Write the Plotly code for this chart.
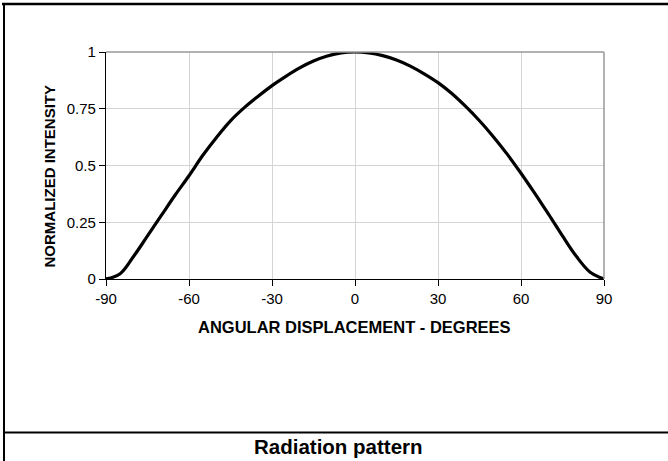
import plotly.graph_objects as go

angles = [-90, -85, -80, -75, -70, -65, -60, -55, -50, -45, -40, -35, -30, -25, -20, -15, -10, -5,
          0, 5, 10, 15, 20, 25, 30, 35, 40, 45, 50, 55, 60, 65, 70, 75, 80, 85, 90]
intensity = [0.0, 0.022, 0.10, 0.19, 0.28, 0.37, 0.455, 0.545, 0.625, 0.697, 0.755, 0.805, 0.852, 0.893, 0.93, 0.96, 0.982, 0.996,
             1.0, 0.996, 0.984, 0.965, 0.938, 0.904, 0.865, 0.817, 0.76, 0.697, 0.627, 0.55, 0.466, 0.377, 0.285, 0.19, 0.10, 0.03, 0.0]
x_ticks = [-90, -60, -30, 0, 30, 60, 90]
y_ticks = [0, 0.25, 0.5, 0.75, 1]
y_labels = ["0", "0.25", "0.5", "0.75", "1"]

W, H = 668, 461
L, R, T, B = 106, 64, 52, 182
pw, ph = W - L - R, H - T - B

def px(x):
    return (x - L) / pw

def py(y):
    return (H - B - y) / ph

fig = go.Figure()
fig.add_trace(go.Scatter(x=angles, y=intensity, mode="lines",
                         line=dict(color="black", width=3.2, shape="spline", smoothing=1.0),
                         hoverinfo="skip", showlegend=False))

sans = "Liberation Sans, Arial"
narrow = "Liberation Sans Narrow, Arial Narrow, Liberation Sans, Arial"
fig.update_layout(
    width=W, height=H,
    margin=dict(l=L, r=R, t=T, b=B),
    paper_bgcolor="white", plot_bgcolor="white",
    font=dict(family=sans, color="black", size=15),
    xaxis=dict(range=[-90, 90], tickvals=x_ticks, ticktext=[str(v) for v in x_ticks],
               showgrid=True, gridcolor="#d4d4d4", gridwidth=1,
               showline=True, linecolor="black", linewidth=1.3,
               ticks="outside", ticklen=6, tickcolor="black", tickwidth=1,
               zeroline=False, tickfont=dict(size=15, family=sans)),
    yaxis=dict(range=[0, 1], tickvals=y_ticks, ticktext=y_labels,
               showgrid=True, gridcolor="#d4d4d4", gridwidth=1,
               showline=True, linecolor="black", linewidth=1.3,
               ticks="outside", ticklen=6, tickcolor="black", tickwidth=1,
               zeroline=False, tickfont=dict(size=15, family=sans)),
    shapes=[
        dict(type="line", xref="paper", yref="paper", x0=0, x1=1, y0=1, y1=1,
             line=dict(color="#999999", width=1.5)),
        dict(type="line", xref="paper", yref="paper", x0=1, x1=1, y0=0, y1=1,
             line=dict(color="#999999", width=1.5)),
        dict(type="line", xref="paper", yref="paper", x0=px(2), x1=px(W + 2), y0=py(4), y1=py(4),
             line=dict(color="black", width=2.5)),
        dict(type="line", xref="paper", yref="paper", x0=px(4), x1=px(4), y0=py(3), y1=py(H + 2),
             line=dict(color="black", width=2)),
        dict(type="line", xref="paper", yref="paper", x0=px(4), x1=px(W + 2), y0=py(432.5), y1=py(432.5),
             line=dict(color="black", width=2)),
    ],
    annotations=[
        dict(text="<b>ANGULAR DISPLACEMENT - DEGREES</b>", xref="paper", yref="paper",
             x=px(354.5), y=py(327), xanchor="center", yanchor="middle", showarrow=False,
             font=dict(size=16.5, family=sans, color="black")),
        dict(text="<b>NORMALIZED INTENSITY</b>", xref="paper", yref="paper", textangle=-90,
             x=px(49), y=py(176.5), xanchor="center", yanchor="middle", showarrow=False,
             font=dict(size=15, family=narrow, color="black")),
        dict(text="<b>Radiation pattern</b>", xref="paper", yref="paper",
             x=px(338), y=py(446), xanchor="center", yanchor="middle", showarrow=False,
             font=dict(size=20.5, family=narrow, color="black")),
    ],
)

fig.write_html("out.html", config={"displayModeBar": False},
               post_script="document.body.style.margin='0';document.body.style.overflow='hidden';")
